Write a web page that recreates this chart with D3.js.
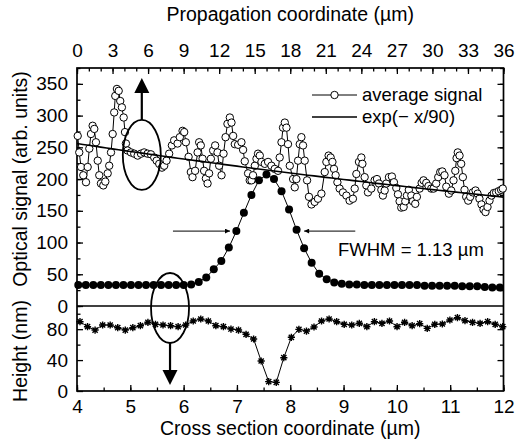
<!DOCTYPE html>
<html><head><meta charset="utf-8">
<script src="https://cdn.jsdelivr.net/npm/d3@7"></script>
<style>
html,body{margin:0;padding:0;background:#fff;}
svg{display:block;font-family:"Liberation Sans",Arial,sans-serif;}
</style></head>
<body>
<script>
// ---- data ----
const propX = [0.06,0.19,0.34,0.53,0.76,0.90,1.04,1.18,1.32,1.46,1.60,1.75,1.88,2.02,2.22,2.39,2.59,2.72,2.87,3.01,3.14,3.23,3.37,3.52,3.65,3.79,3.94,4.05,4.13,4.27,4.55,4.83,5.12,5.40,5.67,5.96,6.24,6.52,6.72,6.94,7.17,7.36,7.56,7.78,8.01,8.20,8.49,8.68,8.91,9.05,9.19,9.42,9.61,9.75,9.97,10.18,10.31,10.45,10.60,10.73,10.88,11.02,11.15,11.30,11.49,11.66,11.86,12.00,12.20,12.37,12.54,12.70,12.90,13.04,13.18,13.32,13.60,13.88,14.02,14.16,14.44,14.58,14.73,14.86,15.01,15.15,15.28,15.43,15.57,15.85,16.13,16.41,16.69,16.97,17.11,17.26,17.39,17.54,17.68,17.81,17.96,18.24,18.38,18.52,18.66,18.80,18.94,19.08,19.22,19.42,19.58,19.79,20.06,20.34,20.63,20.91,21.05,21.24,21.41,21.56,21.69,21.83,21.98,22.17,22.45,22.74,23.01,23.29,23.44,23.58,23.80,24.00,24.09,24.28,24.42,24.56,24.84,25.12,25.32,25.49,25.69,25.82,25.97,26.11,26.33,26.58,26.75,26.95,27.09,27.23,27.37,27.57,27.71,27.85,28.01,28.22,28.35,28.55,28.69,28.92,29.09,29.25,29.48,29.67,29.90,30.10,30.32,30.49,30.66,30.83,31.02,31.17,31.39,31.59,31.78,31.93,32.04,32.14,32.29,32.43,32.57,32.71,32.85,33.02,33.19,33.41,33.64,33.81,33.97,34.14,34.31,34.48,34.65,34.82,34.99,35.18,35.38,35.60,35.80,35.94];
const avgSignal = [268,242,219,206,195,219,248,271,284,279,258,229,206,193,190,196,209,221,242,271,305,331,342,339,323,313,297,274,256,245,242,240,237,240,242,240,239,234,229,224,218,221,229,240,253,261,256,266,276,274,258,235,211,203,213,242,258,253,232,213,201,193,209,232,245,253,242,221,206,240,266,287,297,289,268,255,254,258,246,228,209,198,198,206,221,232,240,237,227,224,227,221,216,213,234,258,281,289,281,255,221,200,187,200,229,255,266,253,229,198,172,160,164,169,177,211,227,237,234,227,216,206,195,185,179,174,166,169,185,208,227,234,224,203,190,179,185,198,200,193,183,174,182,193,203,204,195,186,176,165,155,156,165,174,183,174,165,161,172,185,194,198,194,189,185,185,193,203,211,212,206,188,177,182,198,213,233,242,237,224,203,183,172,166,172,179,182,177,169,160,152,148,156,166,174,178,179,181,183,185];
const fitAmp = 256, fitDecay = 90;           // exp(-x/90) fit
const crossStart = 4.024, crossStep = 0.1412; // optical profile sampling
const opticalProfile = [33,33,33,33,33,33,33,33,33,33,33,33,33,33,33,34,38,45,58,71,92,118,147,175,198,207,200,181,152,120,91,68,51,42,37,35,34,34,33,33,33,33,33,33,33,33,32,32,32,32,32,31,31,31,30,29,29];
const heightStart = 4.056, heightStep = 0.1416; // height profile sampling
const heightProfile = [89.7,83.2,78.9,85.4,85.4,81.9,78.9,81.9,84.5,88.9,86.3,85.4,84.5,83.2,85.4,90.6,93.2,90.6,84.5,83.2,80.2,78.9,73.4,67.3,38.8,12.1,11.2,43.1,69.5,79.8,77.6,82.8,90.6,93.2,89.7,86.3,85.4,87.6,83.2,89.7,87.6,90.6,83.2,88.9,84.5,87.1,81.1,86.3,86.7,91.9,94.9,91.0,88.9,87.6,89.7,86.3,83.2];
const topTicks = [0,3,6,9,12,15,18,21,24,27,30,33,36];
const bottomTicks = [4,5,6,7,8,9,10,11,12];
const upperTicks = [0,50,100,150,200,250,300,350];
const lowerTicks = [0,40,80];
const fwhmLevel = 118, fwhmLeft = [5.80,6.87], fwhmRight = [9.22,8.26];
const legendItems = ["average signal","exp(\u2212 x/90)"];

// ---- layout ----
const W=516,H=447, L=77, R=503.5, T=68, M=306, B=391;
const svg = d3.select("body").append("svg").attr("width",W).attr("height",H);
const xTop = d3.scaleLinear([0,36],[L,R]);
const xBot = d3.scaleLinear([4,12],[L,R]);
const yUp = d3.scaleLinear([0,375],[M,T]);
const yLo = d3.scaleLinear([0,110],[B,M]);
const FS = 19;

function styleAxis(g){
  g.select(".domain").remove();
  g.selectAll("line").attr("stroke","#000").attr("stroke-width",1.3);
  g.selectAll("text").attr("font-size",FS).attr("fill","#000").attr("font-family","Liberation Sans, Arial, sans-serif");
}
function minor(axis, vals, tr){
  svg.append("g").attr("transform",tr).call(axis.tickValues(vals).tickSize(-3.5).tickFormat("")).call(styleAxis);
}
// top axis
minor(d3.axisTop(xTop), d3.range(0,37,1), `translate(0,${T})`);
svg.append("g").attr("transform",`translate(0,${T})`)
  .call(d3.axisTop(xTop).tickValues(topTicks).tickSize(-6).tickPadding(11).tickFormat(d3.format("d"))).call(styleAxis);
// bottom axis
minor(d3.axisBottom(xBot), d3.range(4,12.01,0.5), `translate(0,${B})`);
svg.append("g").attr("transform",`translate(0,${B})`)
  .call(d3.axisBottom(xBot).tickValues(bottomTicks).tickSize(-6).tickPadding(8.5).tickFormat(d3.format("d"))).call(styleAxis);
// upper left/right
minor(d3.axisLeft(yUp), d3.range(0,376,25), `translate(${L},0)`);
svg.append("g").attr("transform",`translate(${L},0)`)
  .call(d3.axisLeft(yUp).tickValues(upperTicks).tickSize(-6).tickPadding(9)).call(styleAxis);
minor(d3.axisRight(yUp), d3.range(25,376,25), `translate(${R},0)`);
svg.append("g").attr("transform",`translate(${R},0)`)
  .call(d3.axisRight(yUp).tickValues(upperTicks.filter(d=>d>0)).tickSize(-6).tickFormat("")).call(styleAxis);
// lower left/right
minor(d3.axisLeft(yLo), [20,60,100], `translate(${L},0)`);
svg.append("g").attr("transform",`translate(${L},0)`)
  .call(d3.axisLeft(yLo).tickValues(lowerTicks).tickSize(-6).tickPadding(9)).call(styleAxis);
minor(d3.axisRight(yLo), [20,60,100], `translate(${R},0)`);
svg.append("g").attr("transform",`translate(${R},0)`)
  .call(d3.axisRight(yLo).tickValues([40,80]).tickSize(-6).tickFormat("")).call(styleAxis);

// frame + separator
svg.append("rect").attr("x",L).attr("y",T).attr("width",R-L).attr("height",B-T)
  .attr("fill","none").attr("stroke","#000").attr("stroke-width",1.7);
svg.append("line").attr("x1",L).attr("x2",R).attr("y1",yUp(0)).attr("y2",yUp(0))
  .attr("stroke","#000").attr("stroke-width",1.5);

// axis titles
svg.append("text").attr("x",(L+R)/2).attr("y",21).attr("text-anchor","middle").attr("font-size",19.5).text("Propagation coordinate (\u00b5m)");
svg.append("text").attr("x",(L+R)/2).attr("y",435).attr("text-anchor","middle").attr("font-size",19.5).text("Cross section coordinate (\u00b5m)");
svg.append("text").attr("transform","translate(27,179) rotate(-90)").attr("text-anchor","middle").attr("font-size",19.5).text("Optical signal (arb. units)");
svg.append("text").attr("transform","translate(27,351) rotate(-90)").attr("text-anchor","middle").attr("font-size",19.5).text("Height (nm)");

// ---- average signal (top axis) ----
const avg = propX.map((x,i)=>[x,avgSignal[i]]);
svg.append("path").datum(avg).attr("fill","none").attr("stroke","#000").attr("stroke-width",1)
  .attr("d",d3.line().x(d=>xTop(d[0])).y(d=>yUp(d[1])));
svg.append("g").selectAll("circle").data(avg).join("circle")
  .attr("cx",d=>xTop(d[0])).attr("cy",d=>yUp(d[1])).attr("r",3.7)
  .attr("fill","#fff").attr("stroke","#000").attr("stroke-width",1);
// fit line
const fit = d3.range(0,36.01,0.5).map(x=>[x,fitAmp*Math.exp(-x/fitDecay)]);
svg.append("path").datum(fit).attr("fill","none").attr("stroke","#000").attr("stroke-width",1.6)
  .attr("d",d3.line().x(d=>xTop(d[0])).y(d=>yUp(d[1])));

// ---- optical cross-section profile ----
const opt = opticalProfile.map((v,i)=>[crossStart+i*crossStep,v]);
svg.append("path").datum(opt).attr("fill","none").attr("stroke","#000").attr("stroke-width",1)
  .attr("d",d3.line().x(d=>xBot(d[0])).y(d=>yUp(d[1])));
svg.append("g").selectAll("circle").data(opt).join("circle")
  .attr("cx",d=>xBot(d[0])).attr("cy",d=>yUp(d[1])).attr("r",4).attr("fill","#000");

// ---- height profile ----
const hp = heightProfile.map((v,i)=>[heightStart+i*heightStep,v]);
svg.append("path").datum(hp).attr("fill","none").attr("stroke","#000").attr("stroke-width",1)
  .attr("d",d3.line().x(d=>xBot(d[0])).y(d=>yLo(d[1])));
const star = "M-3.6,0H3.6M0,-3.6V3.6M-2.6,-2.6L2.6,2.6M-2.6,2.6L2.6,-2.6";
svg.append("g").selectAll("path").data(hp).join("path")
  .attr("transform",d=>`translate(${xBot(d[0])},${yLo(d[1])})`).attr("d",star)
  .attr("stroke","#000").attr("stroke-width",1.4).attr("fill","none");

// ---- FWHM arrows ----
const defs = svg.append("defs");
defs.append("marker").attr("id","ah").attr("viewBox","0 0 10 10").attr("refX",10).attr("refY",5)
  .attr("markerWidth",7).attr("markerHeight",5).attr("markerUnits","userSpaceOnUse").attr("orient","auto")
  .append("path").attr("d","M0,0L10,5L0,10Z").attr("fill","#000");
[fwhmLeft,fwhmRight].forEach(a=>{
  svg.append("line").attr("x1",xBot(a[0])).attr("x2",xBot(a[1])).attr("y1",yUp(fwhmLevel)).attr("y2",yUp(fwhmLevel))
    .attr("stroke","#000").attr("stroke-width",1).attr("marker-end","url(#ah)");
});
svg.append("text").attr("x",338).attr("y",yUp(fwhmLevel)+25).attr("font-size",18.5).text("FWHM = 1.13 \u00b5m");

// ---- ellipses & arrows ----
function ellipseArrow(cx,cy,dir){
  svg.append("ellipse").attr("cx",cx).attr("cy",cy).attr("rx",19).attr("ry",35)
    .attr("fill","none").attr("stroke","#000").attr("stroke-width",1.8);
  const y0 = cy + dir*35, yb = y0 + dir*27, yt = yb + dir*15;
  svg.append("line").attr("x1",cx).attr("x2",cx).attr("y1",y0).attr("y2",yb).attr("stroke","#000").attr("stroke-width",2.2);
  svg.append("path").attr("d",`M${cx-7.5},${yb}L${cx+7.5},${yb}L${cx},${yt}Z`).attr("fill","#000");
}
ellipseArrow(xTop(5.47), yUp(238), -1);
ellipseArrow(xBot(5.745), yLo(107.4), 1);

// ---- legend ----
const lg = svg.append("g");
lg.append("line").attr("x1",312).attr("x2",357).attr("y1",95).attr("y2",95).attr("stroke","#000").attr("stroke-width",1);
lg.append("circle").attr("cx",334.5).attr("cy",95).attr("r",3.7).attr("fill","#fff").attr("stroke","#000");
lg.append("text").attr("x",362).attr("y",101).attr("font-size",18.5).text(legendItems[0]);
lg.append("line").attr("x1",312).attr("x2",357).attr("y1",117).attr("y2",117).attr("stroke","#000").attr("stroke-width",1.6);
lg.append("text").attr("x",362).attr("y",123).attr("font-size",18.5).text(legendItems[1]);
</script>
</body></html>
